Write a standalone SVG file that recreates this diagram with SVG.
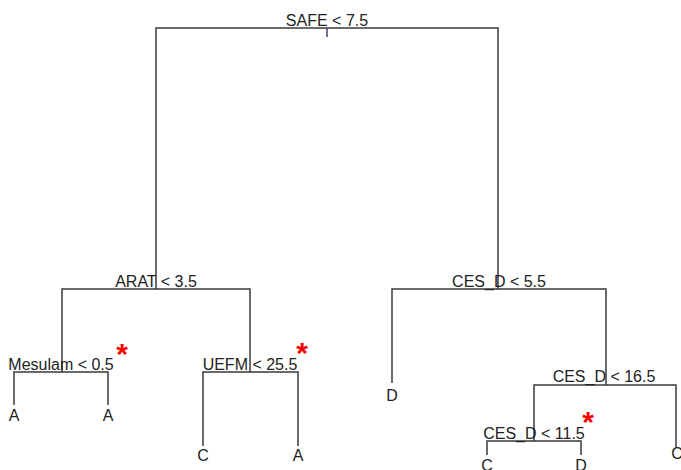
<svg xmlns="http://www.w3.org/2000/svg" width="681" height="470" viewBox="0 0 681 470">
<style>
.e{fill:none;stroke:#3a3a3a;stroke-width:1.5}
text{font-family:"Liberation Sans",Arial,sans-serif;font-size:16px;fill:#222;text-anchor:middle}
.s{fill:#ff0000;font-size:30px;font-weight:bold}
</style>
<rect width="681" height="470" fill="#fff"/>
<g id="connectors">
<path class="e" d="M156,289V28H498V289"/>
<path class="e" d="M327,28V37" style="stroke:#4b3a78"/>
<path class="e" d="M62,372V289H250V372"/>
<path class="e" d="M14,405V372H108V405"/>
<path class="e" d="M203,446V372H298V446"/>
<path class="e" d="M392,383V289H606V385"/>
<path class="e" d="M534,441V385H676V448"/>
<path class="e" d="M487,455V441H581V455"/>
</g>
<g id="n_root"><text x="327" y="26">SAFE &lt; 7.5</text></g>
<g id="n_arat"><text x="156" y="287">ARAT &lt; 3.5</text></g>
<g id="n_cesd55"><text x="499" y="287">CES_D &lt; 5.5</text></g>
<g id="n_mesulam"><text x="61" y="370">Mesulam &lt; 0.5</text><text class="s" x="122" y="364">*</text></g>
<g id="n_uefm"><text x="250" y="370">UEFM &lt; 25.5</text><text class="s" x="302" y="363">*</text></g>
<g id="n_cesd165"><text x="604" y="382">CES_D &lt; 16.5</text></g>
<g id="n_cesd115"><text x="534" y="439">CES_D &lt; 11.5</text><text class="s" x="588" y="432">*</text></g>
<g id="l1"><text x="14" y="421">A</text></g>
<g id="l2"><text x="108" y="421">A</text></g>
<g id="l3"><text x="203" y="461">C</text></g>
<g id="l4"><text x="298" y="461">A</text></g>
<g id="l5"><text x="392" y="401">D</text></g>
<g id="l6"><text x="677" y="459">C</text></g>
<g id="l7"><text x="487" y="471">C</text></g>
<g id="l8"><text x="581" y="471">D</text></g>
</svg>
